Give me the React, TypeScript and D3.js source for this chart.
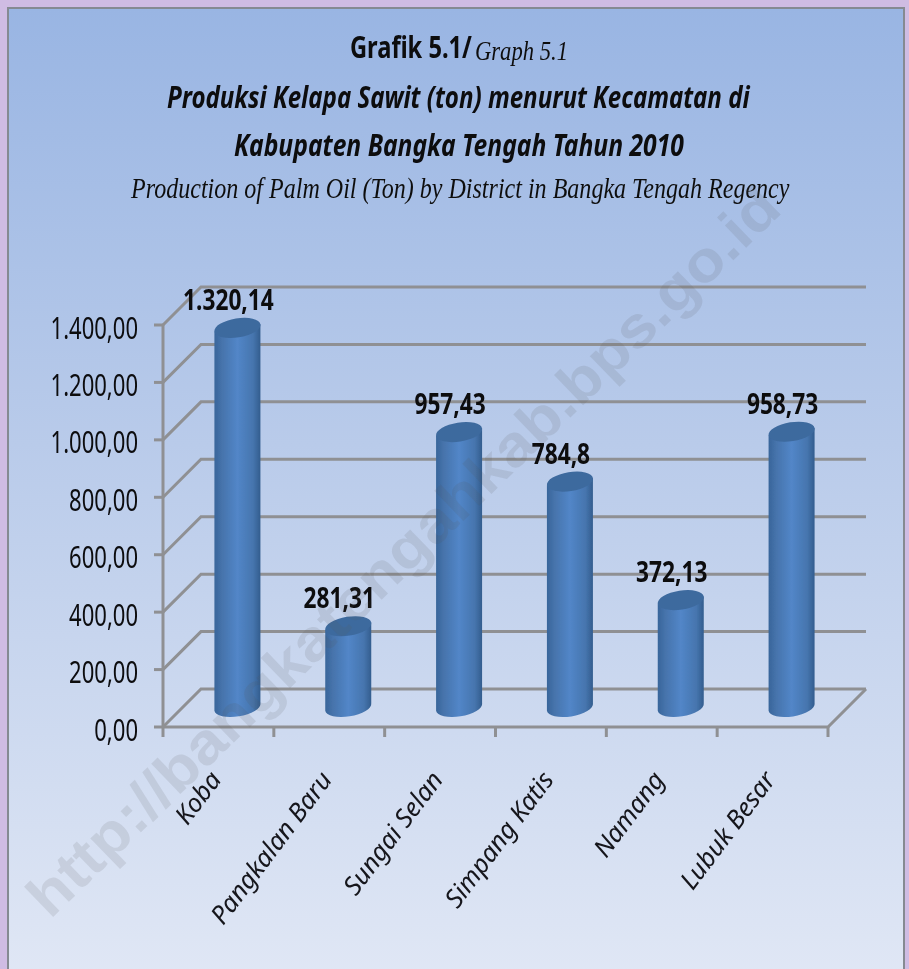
import React, { useLayoutEffect, useRef } from 'react';
import * as d3 from 'd3';

const categories = ['Koba', 'Pangkalan Baru', 'Sungai Selan', 'Simpang Katis', 'Namang', 'Lubuk Besar'];
const values = [1320.14, 281.31, 957.43, 784.8, 372.13, 958.73];
const valueLabels = ['1.320,14', '281,31', '957,43', '784,8', '372,13', '958,73'];
const ticks = [0, 200, 400, 600, 800, 1000, 1200, 1400];
const tickLabels = ['0,00', '200,00', '400,00', '600,00', '800,00', '1.000,00', '1.200,00', '1.400,00'];

const W = 909, H = 969;
const left = 163, right = 828, bottom = 727, top = 325, depth = 38;
const y = d3.scaleLinear().domain([0, 1400]).range([bottom, top]);
const x = d3.scaleBand<string>().domain(categories).range([left, right]);
const GRID = '#8f9093';
const SANS = "'Noto Sans', 'Open Sans', sans-serif";
const SCRIPT = "'Liberation Serif', serif";

function Squeezed({ x: px, y: py, sx, size, anchor = 'start', weight = 400, italic = false, children }: any) {
  return (
    <text transform={`translate(${px},${py}) scale(${sx},1)`} fontFamily={SANS} fontSize={size}
      textAnchor={anchor} fontWeight={weight} fontStyle={italic ? 'italic' : 'normal'} fill="#0b0b10">
      {children}
    </text>
  );
}

// Text squeezed horizontally so that it spans exactly the given width.
function Fit({ x: px, y: py, width, angle = 0, children, ...rest }: any) {
  const ref = useRef<SVGTextElement>(null);
  useLayoutEffect(() => {
    const el = ref.current;
    if (!el) return;
    const natural = el.getComputedTextLength();
    el.setAttribute('transform', `translate(${px},${py}) rotate(${angle}) scale(${width / natural},1)`);
  }, [px, py, width, angle]);
  return <text ref={ref} transform={`translate(${px},${py}) rotate(${angle})`} {...rest}>{children}</text>;
}

function Cylinder({ cx, value }: { cx: number; value: number }) {
  const rx = 23, ry = 9.5, tilt = -9;
  const rad = (tilt * Math.PI) / 180;
  const baseY = y(0) - depth / 2 - 1;
  const topY = baseY - (y(0) - y(value));
  const dy = rx * Math.tan(rad);
  const body = `M${cx - rx},${topY - dy} L${cx - rx},${baseY - dy} A${rx / Math.cos(rad)},${ry} ${tilt} 0 0 ${cx + rx},${baseY + dy} L${cx + rx},${topY + dy} Z`;
  return (
    <g>
      <path d={body} fill="url(#cyl)" />
      <ellipse cx={cx} cy={topY} rx={rx / Math.cos(rad)} ry={ry} transform={`rotate(${tilt} ${cx} ${topY})`} fill="#3e6a9e" />
    </g>
  );
}

export default function App() {
  return (
    <svg width={W} height={H} viewBox={`0 0 ${W} ${H}`} style={{ position: 'absolute', left: 0, top: 0 }}>
      <defs>
        <linearGradient id="bg" x1="0" y1="0" x2="0" y2="1">
          <stop offset="0" stopColor="#99b5e3" />
          <stop offset="0.45" stopColor="#b9cbea" />
          <stop offset="1" stopColor="#e0e7f5" />
        </linearGradient>
        <linearGradient id="cyl" x1="0" y1="0" x2="1" y2="0">
          <stop offset="0" stopColor="#38659a" />
          <stop offset="0.16" stopColor="#4673ab" />
          <stop offset="0.5" stopColor="#5286c8" />
          <stop offset="0.84" stopColor="#4675ae" />
          <stop offset="1" stopColor="#335d8e" />
        </linearGradient>
        <filter id="soft" x="0" y="0" width="1" height="1"><feGaussianBlur stdDeviation="0.45" /></filter>
      </defs>
      <g filter="url(#soft)">
        <rect width={W} height={H} fill="#cfbce3" />
        <rect x={8} y={8} width={896} height={H} fill="url(#bg)" stroke="#858a92" strokeWidth={2} />

        <Fit x={350} y={58} width={122} fontFamily={SANS} fontWeight={700} fontSize={31} fill="#0b0b10">Grafik 5.1/</Fit>
        <Fit x={475} y={60} width={93} fontFamily={SCRIPT} fontStyle="italic" fontSize={28} fill="#111">Graph 5.1</Fit>
        <Fit x={167} y={108} width={583} fontFamily={SANS} fontWeight={700} fontStyle="italic" fontSize={31} fill="#0b0b10">Produksi Kelapa Sawit (ton) menurut Kecamatan di</Fit>
        <Fit x={234} y={156} width={450} fontFamily={SANS} fontWeight={700} fontStyle="italic" fontSize={31} fill="#0b0b10">Kabupaten Bangka Tengah Tahun 2010</Fit>
        <Fit x={131} y={198} width={659} fontFamily={SCRIPT} fontStyle="italic" fontSize={29} fill="#111">Production of Palm Oil (Ton) by District in Bangka Tengah Regency</Fit>

        {ticks.map((t) => (
          <path key={t} d={`M${left},${y(t)} L${left + depth},${y(t) - depth} L${right + depth},${y(t) - depth}`} stroke={GRID} strokeWidth={3} fill="none" />
        ))}
        <path d={`M${left},${bottom} L${right},${bottom} L${right + depth},${bottom - depth}`} stroke={GRID} strokeWidth={3} fill="none" />
        <line x1={left} x2={left} y1={top} y2={bottom + 10} stroke={GRID} strokeWidth={3} />
        {ticks.map((t, i) => (
          <g key={t}>
            <line x1={left - 9} x2={left} y1={y(t)} y2={y(t)} stroke={GRID} strokeWidth={3} />
            <Squeezed x={138} y={y(t) + 13.5} sx={0.735} size={30} anchor="end">{tickLabels[i]}</Squeezed>
          </g>
        ))}
        {d3.range(1, categories.length + 1).map((i) => {
          const px = left + x.step() * i;
          return <line key={i} x1={px} x2={px} y1={bottom} y2={bottom + 10} stroke={GRID} strokeWidth={3} />;
        })}

        {categories.map((c, i) => {
          const cx = (x(c) as number) + x.bandwidth() / 2 + depth / 2;
          const baseY = y(0) - depth / 2 - 1;
          const topY = baseY - (y(0) - y(values[i]));
          return (
            <g key={c}>
              <Cylinder cx={cx} value={values[i]} />
              <Squeezed x={cx - 9} y={topY - 18} sx={0.81} size={28} anchor="middle" weight={700}>{valueLabels[i]}</Squeezed>
            </g>
          );
        })}

        {categories.map((c) => {
          const cx = (x(c) as number) + x.bandwidth() / 2;
          return (
            <text key={c} transform={`translate(${cx + 4},${780}) rotate(-53)`} textAnchor="end"
              fontFamily={SANS} fontStyle="italic" fontSize={25.5} fill="#15151a">
              {c}
            </text>
          );
        })}

        <Fit x={50} y={920} width={1020} angle={-44} fontFamily="'Liberation Sans', sans-serif" fontWeight={700}
          fontSize={58} fill="#555" fillOpacity={0.13}>
          http://bangkatengahkab.bps.go.id
        </Fit>
      </g>
    </svg>
  );
}
